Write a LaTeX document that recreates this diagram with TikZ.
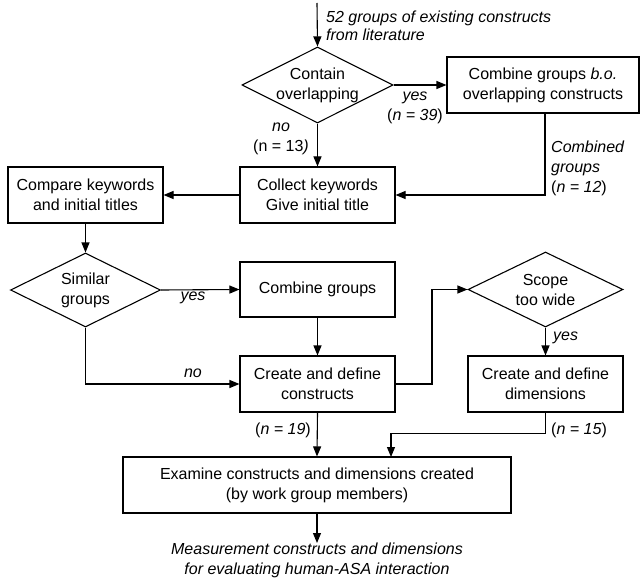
\documentclass[tikz,border=0pt]{standalone}
\usepackage{fontspec}
\setmainfont{Liberation Sans}
\usetikzlibrary{shapes.geometric,arrows.meta,calc}
\begin{document}
\begin{tikzpicture}[x=1pt,y=-1pt,
  every node/.style={font=\fontsize{16}{20}\selectfont},
  box/.style={draw,line width=1.1pt,rectangle,inner sep=0pt,minimum height=56pt},
  dia/.style={draw,line width=1.1pt,diamond,inner sep=0pt},
  lbl/.style={align=center,inner sep=0pt},
  note/.style={align=left,inner sep=0pt,anchor=west},
  arr/.style={line width=1.1pt,-{Triangle[length=10pt,width=8pt]}},
  ln/.style={line width=1.1pt}]
\useasboundingbox (0,0) rectangle (640,583);
% top input
\coordinate (start) at (317,3);
\node[note,font=\fontsize{16}{18.5}\selectfont\itshape] (in) at (326,26) {52 groups of existing constructs\\from literature};
% diamond 1
\node[dia,minimum width=151pt,minimum height=76pt] (d1) at (317.5,85) {};
\node[lbl] (d1t) at (d1) {Contain\\overlapping};
\node[box,minimum width=192pt] (cb) at (543,85) {};
\node[lbl] (cbt) at (cb) {Combine groups \textit{b.o.}\\overlapping constructs};
\node[box,minimum width=155pt] (col) at (317.5,195) {};
\node[lbl] (colt) at (col) {Collect keywords\\Give initial title};
\node[box,minimum width=155pt] (cmp) at (85.5,195) {};
\node[lbl] (cmpt) at (cmp) {Compare keywords\\and initial titles};
\node[dia,minimum width=150pt,minimum height=74pt] (sim) at (85.5,290) {};
\node[lbl] (simt) at (sim) {Similar\\groups};
\node[box,minimum width=155pt,minimum height=55pt] (cg) at (317.5,289.5) {};
\node[lbl] (cgt) at (cg) {Combine groups};
\node[box,minimum width=155pt] (cc) at (317.5,384) {};
\node[lbl] (cct) at (cc) {Create and define\\constructs};
\node[dia,minimum width=155pt,minimum height=75pt] (sc) at (545.5,289.5) {};
\node[lbl] (sct) at (sc) {Scope\\too wide};
\node[box,minimum width=155pt] (cd) at (545.5,384) {};
\node[lbl] (cdt) at (cd) {Create and define\\dimensions};
\node[box,minimum width=388pt] (ex) at (317,485) {};
\node[lbl] (ext) at (ex) {Examine constructs and dimensions created\\(by work group members)};
\node[lbl,font=\fontsize{16}{20}\selectfont\itshape,anchor=north] (out) at (317,543) {Measurement constructs and dimensions\\for evaluating human-ASA interaction};
% connectors
\draw[arr] (start) -- (d1.north);
\draw[arr] (d1.east) -- (cb.west);
\node[lbl,font=\fontsize{16}{20}\selectfont] (y1) at (415,108) {\textit{yes}\\(\textit{n = 39})};
\draw[arr] (d1.south) -- (col.north);
\node[lbl,font=\fontsize{16}{20}\selectfont] (n1) at (281,139) {\textit{no}\\(n = 13\textit{)}};
\coordinate (cbdrop) at (545,113);
\draw[arr] (cbdrop) |- (col.east);
\node[note,font=\fontsize{16}{20}\selectfont] (n12) at (551,168) {\textit{Combined}\\\textit{groups}\\(\textit{n = 12})};
\draw[arr] (col.west) -- (cmp.east);
\draw[arr] (cmp.south) -- (sim.north);
\draw[arr] (sim.east) -- (cg.west);
\node[lbl,font=\fontsize{16}{20}\selectfont\itshape] (y2) at (193,298) {yes};
\draw[arr] (cg.south) -- (cc.north);
\draw[arr] (sim.south) |- (cc.west);
\node[lbl,font=\fontsize{16}{20}\selectfont\itshape] (n2) at (193,373) {no};
\coordinate (bend) at (432,384);
\draw[arr] (cc.east) -- (bend) |- (sc.west);
\draw[arr] (sc.south) -- (cd.north);
\node[lbl,font=\fontsize{16}{20}\selectfont\itshape,anchor=west] (y3) at (553,338) {yes};
\coordinate (exin) at (391,457);
\draw[arr] (cd.south) -- ++(0,21) -| (exin);
\node[lbl,anchor=west] (n15) at (551,430) {(\textit{n = 15})};
\draw[arr] (cc.south) -- (ex.north);
\node[lbl,anchor=east] (n19) at (311,430) {(\textit{n = 19})};
\draw[arr] (ex.south) -- (out.north);
\end{tikzpicture}
\end{document}
